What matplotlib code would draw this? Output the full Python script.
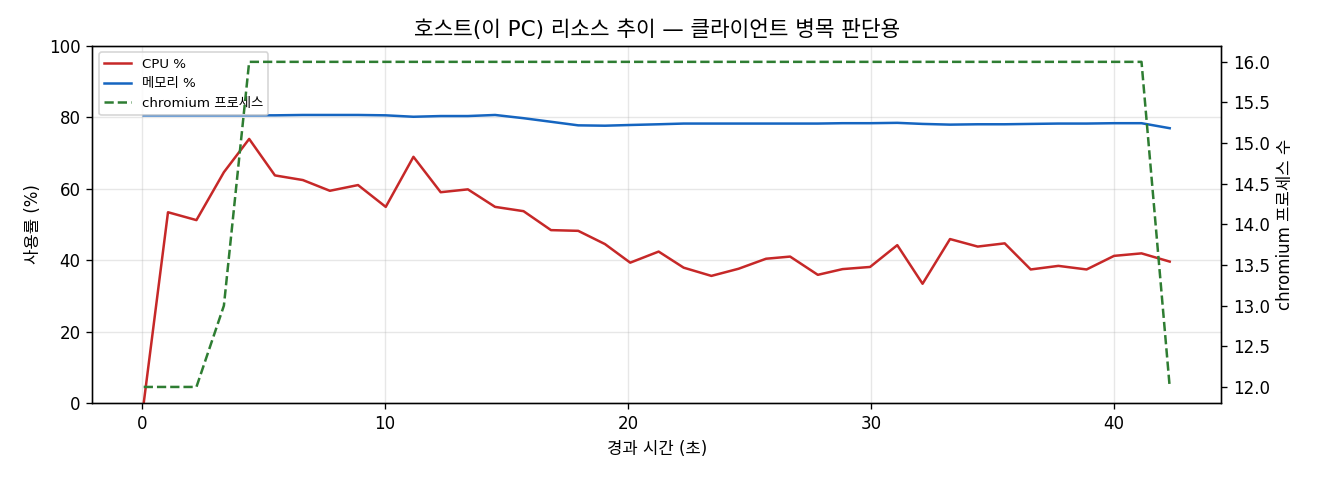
import matplotlib
matplotlib.use("Agg")
import matplotlib.pyplot as plt

plt.rcParams['font.family'] = ['DejaVu Sans', 'Noto Sans CJK KR']
plt.rcParams['axes.unicode_minus'] = False

t = [0.07, 1.07, 2.24, 3.37, 4.41, 5.47, 6.62, 7.73, 8.89, 10.03, 11.17, 12.29,
     13.41, 14.53, 15.70, 16.83, 17.95, 19.05, 20.09, 21.26, 22.29, 23.43, 24.55,
     25.68, 26.67, 27.81, 28.83, 29.96, 31.08, 32.12, 33.25, 34.39, 35.50, 36.57,
     37.71, 38.87, 40.00, 41.13, 42.29]
cpu = [0.0, 53.4, 51.2, 64.6, 73.9, 63.7, 62.4, 59.4, 61.0, 54.9, 68.9, 59.0,
       59.8, 54.9, 53.7, 48.4, 48.2, 44.5, 39.3, 42.4, 37.9, 35.6, 37.6,
       40.4, 41.0, 35.9, 37.5, 38.1, 44.2, 33.4, 45.9, 43.8, 44.7, 37.4,
       38.4, 37.4, 41.2, 41.9, 39.6]
mem = [80.5, 80.5, 80.5, 80.5, 80.5, 80.5, 80.6, 80.6, 80.6, 80.5, 80.1, 80.3,
       80.3, 80.6, 79.7, 78.7, 77.7, 77.6, 77.8, 78.0, 78.2, 78.2, 78.2,
       78.2, 78.2, 78.2, 78.3, 78.3, 78.4, 78.1, 77.9, 78.0, 78.0, 78.1,
       78.2, 78.2, 78.3, 78.3, 76.9]
procs = [12, 12, 12, 13, 16, 16, 16, 16, 16, 16, 16, 16,
         16, 16, 16, 16, 16, 16, 16, 16, 16, 16, 16,
         16, 16, 16, 16, 16, 16, 16, 16, 16, 16, 16,
         16, 16, 16, 16, 12]

fig, ax = plt.subplots(figsize=(11, 4), dpi=120)
l1, = ax.plot(t, cpu, color='#c62828', lw=1.5, label='CPU %')
l2, = ax.plot(t, mem, color='#1565c0', lw=1.5, label='메모리 %')
ax.set_ylim(0, 100)
ax.set_xlabel('경과 시간 (초)', fontsize=10)
ax.set_ylabel('사용률 (%)', fontsize=10)
ax.grid(True, alpha=0.3)
ax.set_title('호스트(이 PC) 리소스 추이 — 클라이언트 병목 판단용', fontsize=12.8)

ax2 = ax.twinx()
l3, = ax2.plot(t, procs, color='#2e7d32', lw=1.5, ls='--', label='chromium 프로세스')
ax2.set_ylabel('chromium 프로세스 수', fontsize=10)

ax.legend(handles=[l1, l2, l3], loc='upper left', fontsize=8)
fig.subplots_adjust(left=0.07, right=0.925, top=0.905, bottom=0.16)
fig.savefig('out.png')
